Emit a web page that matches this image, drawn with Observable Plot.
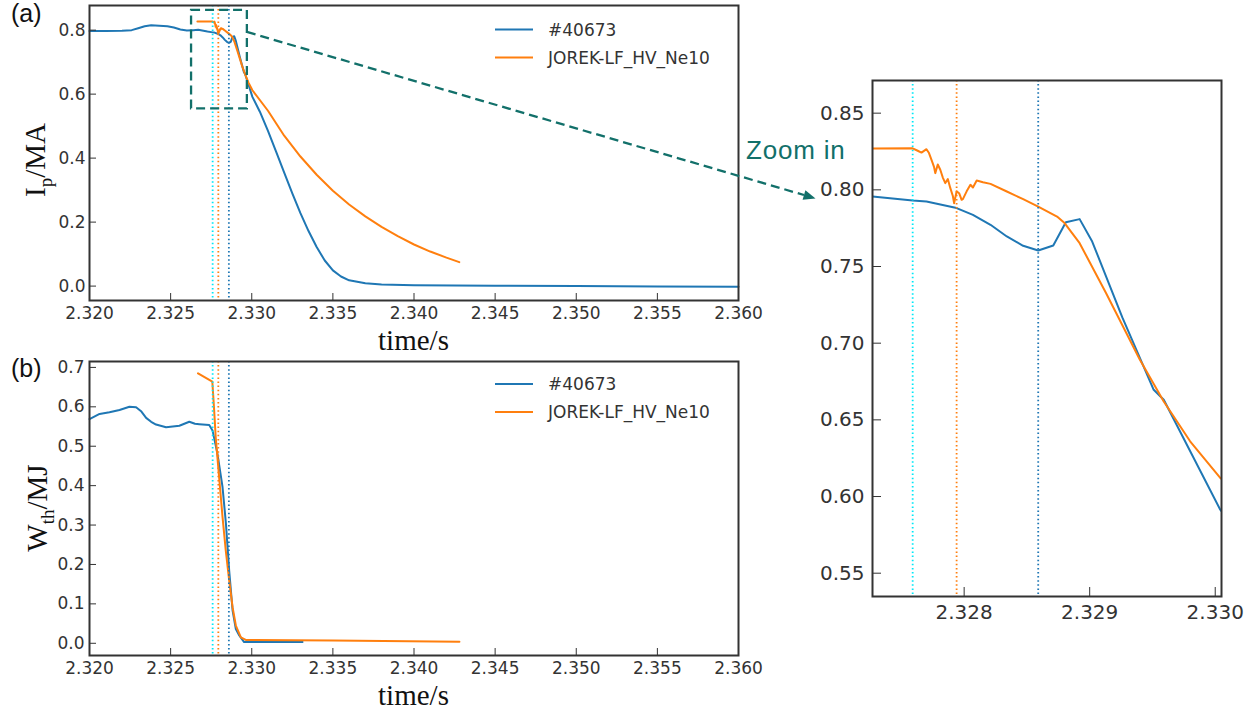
<!DOCTYPE html>
<html><head><meta charset="utf-8">
<script src="https://cdn.jsdelivr.net/npm/d3@7"></script>
<script src="https://cdn.jsdelivr.net/npm/@observablehq/plot@0.6"></script>
<style>
html,body{margin:0;padding:0;background:#fff;}
#wrap{position:relative;width:1260px;height:714px;overflow:hidden;background:#fff;}
#wrap > svg{position:absolute;}
</style></head><body><div id="wrap"></div>
<script>
// ---------------- DATA ----------------
const seriesNames = ["#40673", "JOREK-LF_HV_Ne10"];

// Plasma current Ip (MA), shot #40673
const ipShotT = [2.3200,2.3210,2.3220,2.3226,2.3230,2.3234,2.3238,2.3243,2.3248,2.3252,2.3256,2.3260,2.3264,2.3267,
  2.32727,2.32759,2.32770,2.32794,2.32807,2.32821,2.32834,2.32847,2.32859,2.32871,2.32881,2.32892,2.32902,2.32926,2.32951,2.32959,2.33004,
  2.3305,2.3310,2.3315,2.3320,2.3325,2.3330,2.3335,2.3340,2.3345,2.3350,2.3355,2.3360,2.3370,2.3380,2.3400,2.3450,2.3500,2.3550,2.3600];
const ipShotV = [0.797,0.797,0.798,0.800,0.806,0.812,0.815,0.814,0.812,0.808,0.802,0.799,0.800,0.801,
  0.7956,0.7930,0.7924,0.7881,0.7837,0.7772,0.7696,0.7635,0.7604,0.7637,0.7789,0.7809,0.7663,0.7168,0.6696,0.6631,0.5914,
  0.545,0.485,0.420,0.355,0.290,0.228,0.172,0.122,0.080,0.049,0.030,0.018,0.009,0.005,0.003,0.001,0.000,-0.001,-0.002];

// Plasma current Ip (MA), JOREK simulation
const ipJorekT = [2.32665,2.32727,2.32759,2.32763,2.32766,2.32770,2.32772,2.32774,2.32776,2.32777,2.32779,2.32781,2.32783,2.32785,2.32787,2.32789,2.32791,2.32792,
  2.32794,2.32796,2.32798,2.32799,2.32802,2.32805,2.32807,2.32810,2.32815,2.32821,2.32834,2.32847,2.32859,2.32874,2.32880,2.32892,2.32913,2.32940,
  2.32959,2.32980,2.33004,2.3310,2.3320,2.3330,2.3340,2.3350,2.3360,2.3370,2.3380,2.3390,2.3400,2.3410,2.3420,2.34279];
const ipJorekV = [0.8268,0.8269,0.8271,0.8255,0.8243,0.8265,0.8240,0.8196,0.8150,0.8109,0.8165,0.8131,0.8080,0.8044,0.8070,0.8011,0.7960,0.7913,
  0.7990,0.7978,0.7935,0.7939,0.7990,0.8033,0.8015,0.8061,0.8050,0.8039,0.7989,0.7939,0.7891,0.7826,0.7783,0.7652,0.7327,0.6892,
  0.6620,0.6360,0.6121,0.548,0.470,0.405,0.348,0.298,0.255,0.218,0.185,0.156,0.130,0.108,0.089,0.075];

// Thermal energy Wth (MJ), shot #40673
const wShotT = [2.32000,2.32062,2.32123,2.32185,2.32246,2.32287,2.32320,2.32349,2.32380,2.32410,2.32472,2.32554,2.32615,2.32650,2.32677,
  2.32738,2.32759,2.32789,2.32820,2.32841,2.32861,2.32882,2.32902,2.32923,2.32953,2.33313];
const wShotV = [0.569,0.582,0.586,0.592,0.600,0.599,0.588,0.572,0.562,0.555,0.548,0.552,0.562,0.557,0.556,
  0.554,0.539,0.480,0.396,0.303,0.184,0.083,0.036,0.020,0.003,0.003];

// Thermal energy Wth (MJ), JOREK simulation
const wJorekT = [2.32669,2.32757,2.32767,2.32778,2.32799,2.32820,2.32840,2.32861,2.32882,2.32902,2.32933,2.32963,2.3350,2.3428];
const wJorekV = [0.685,0.664,0.600,0.522,0.421,0.320,0.235,0.159,0.091,0.045,0.015,0.0086,0.007,0.004];

// Marked event times (s)
const eventTimes = [2.32759, 2.32794, 2.32859];

// Zoomed region (time s, Ip MA) and arrow anchors
const zoomBox = {t0: 2.32629, t1: 2.32973, v0: 0.554, v1: 0.8616};
const arrowStart = {t: 2.32973, v: 0.7928};
const arrowEnd = {t: 2.32682, v: 0.7941};

// Tick values
const xTicksMain = [2.320,2.325,2.330,2.335,2.340,2.345,2.350,2.355,2.360];
const ipTicks = [0.0,0.2,0.4,0.6,0.8];
const wTicks = [0.0,0.1,0.2,0.3,0.4,0.5,0.6,0.7];
const xTicksZoom = [2.328,2.329,2.330];
const ipTicksZoom = [0.55,0.60,0.65,0.70,0.75,0.80,0.85];

// ---------------- STYLE ----------------
const cShot = "#1f77b4", cJorek = "#ff7f0e", teal = "#12706a", axisCol = "#333";
const eventColors = ["#00e8f8", "#ff7f0e", "#1f77b4"];
const fmt1 = d3.format(".1f"), fmt2 = d3.format(".2f"), fmt3 = d3.format(".3f");

const zip = (T, V) => T.map((t, i) => ({t, v: V[i]}));
const ipShot = zip(ipShotT, ipShotV), ipJorek = zip(ipJorekT, ipJorekV);
const wShot = zip(wShotT, wShotV), wJorek = zip(wJorekT, wJorekV);
const events = eventTimes.map((t, i) => ({t, c: eventColors[i]}));

const baseStyle = {fontFamily: "DejaVu Sans", fontSize: "17px", background: "transparent", overflow: "visible"};

function eventRules(extra = {}) {
  return Plot.ruleX(events, {x: "t", stroke: "c", strokeWidth: 1.8, strokeDasharray: "1.5,2.6", ...extra});
}

const plotA = Plot.plot({
  width: 760, height: 360, marginLeft: 89, marginRight: 22, marginTop: 5, marginBottom: 60,
  style: baseStyle,
  color: {type: "identity"},
  x: {domain: [2.320, 2.360]}, y: {domain: [-0.045, 0.877]},
  marks: [
    Plot.line(ipShot, {x: "t", y: "v", stroke: cShot, strokeWidth: 2}),
    Plot.line(ipJorek, {x: "t", y: "v", stroke: cJorek, strokeWidth: 2}),
    eventRules(),
    Plot.rect([zoomBox], {x1: "t0", x2: "t1", y1: "v0", y2: "v1", fill: "none", stroke: teal, strokeWidth: 2.3, strokeDasharray: "9,5"}),
    Plot.frame({stroke: axisCol, strokeWidth: 2}),
    Plot.axisX({ticks: xTicksMain, tickFormat: fmt3, tickSize: -7, tickPadding: 13, color: axisCol, fontSize: 17, label: null}),
    Plot.axisY({ticks: ipTicks, tickFormat: fmt1, tickSize: -7, tickPadding: 11, color: axisCol, fontSize: 17, label: null})
  ]
});

const plotB = Plot.plot({
  width: 760, height: 359, marginLeft: 89, marginRight: 22, marginTop: 6, marginBottom: 59,
  style: baseStyle,
  color: {type: "identity"},
  x: {domain: [2.320, 2.360]}, y: {domain: [-0.031, 0.715]},
  marks: [
    Plot.line(wShot, {x: "t", y: "v", stroke: cShot, strokeWidth: 2}),
    Plot.line(wJorek, {x: "t", y: "v", stroke: cJorek, strokeWidth: 2}),
    eventRules(),
    Plot.frame({stroke: axisCol, strokeWidth: 2}),
    Plot.axisX({ticks: xTicksMain, tickFormat: fmt3, tickSize: -7, tickPadding: 13, color: axisCol, fontSize: 17, label: null}),
    Plot.axisY({ticks: wTicks, tickFormat: fmt1, tickSize: -7, tickPadding: 12, color: axisCol, fontSize: 17, label: null})
  ]
});

const plotZ = Plot.plot({
  width: 500, height: 714, marginLeft: 112, marginRight: 39, marginTop: 80, marginBottom: 118,
  style: {...baseStyle, fontSize: "20px"},
  color: {type: "identity"},
  x: {domain: [2.32727, 2.33005]}, y: {domain: [0.5348, 0.8713]},
  marks: [
    Plot.line(ipShot, {x: "t", y: "v", stroke: cShot, strokeWidth: 2, clip: true}),
    Plot.line(ipJorek, {x: "t", y: "v", stroke: cJorek, strokeWidth: 2, clip: true}),
    eventRules({clip: true}),
    Plot.frame({stroke: axisCol, strokeWidth: 2}),
    Plot.axisX({ticks: xTicksZoom, tickFormat: fmt3, tickSize: -9, tickPadding: 17, color: axisCol, fontSize: 20, label: null}),
    Plot.axisY({ticks: ipTicksZoom, tickFormat: fmt2, tickSize: -9, tickPadding: 17, color: axisCol, fontSize: 20, label: null})
  ]
});

const wrap = document.getElementById("wrap");
const place = (svg, left, top) => { svg.style.left = left + "px"; svg.style.top = top + "px"; wrap.appendChild(svg); };
place(plotA, 0, 0);
place(plotB, 0, 355);
place(plotZ, 760, 0);

// ---------------- OVERLAY (labels, legend, arrow) ----------------
const ov = d3.create("svg").attr("width", 1260).attr("height", 714)
  .style("left", "0px").style("top", "0px").style("pointer-events", "none");
wrap.appendChild(ov.node());

const serif = "'Liberation Serif', 'Times New Roman', serif";
const sans = "'Liberation Sans', Arial, sans-serif";

function xLabel(y) {
  ov.append("text").attr("x", 413.5).attr("y", y).attr("text-anchor", "middle")
    .attr("font-family", serif).attr("font-size", 29).attr("fill", "#111").text("time/s");
}
xLabel(349.5); xLabel(705);

function yLabel(x, y, main, sub, rest) {
  const t = ov.append("text").attr("transform", `translate(${x},${y}) rotate(-90)`).attr("text-anchor", "middle")
    .attr("font-family", serif).attr("font-size", 29).attr("fill", "#111");
  t.append("tspan").text(main);
  t.append("tspan").attr("font-size", 19).attr("dy", 7).text(sub);
  t.append("tspan").attr("dy", -7).text(rest);
}
yLabel(45, 160, "I", "p", "/MA");
yLabel(47, 508, "W", "th", "/MJ");

ov.append("text").attr("x", 11).attr("y", 22).attr("font-family", sans).attr("font-size", 25).attr("fill", "#111").text("(a)");
ov.append("text").attr("x", 11).attr("y", 377).attr("font-family", sans).attr("font-size", 25).attr("fill", "#111").text("(b)");

function legend(y0) {
  [cShot, cJorek].forEach((c, i) => {
    const y = y0 + i * 28;
    ov.append("line").attr("x1", 495).attr("x2", 533).attr("y1", y).attr("y2", y).attr("stroke", c).attr("stroke-width", 2);
    ov.append("text").attr("x", 548).attr("y", y).attr("dy", "0.36em").attr("font-family", "DejaVu Sans").attr("font-size", 17)
      .attr("fill", axisCol).text(seriesNames[i]);
  });
}
legend(29.5);
legend(384);

// Zoom-in arrow, anchored through the plots' own scales
const xa = plotA.scale("x").apply, ya = plotA.scale("y").apply;
const xz = plotZ.scale("x").apply, yz = plotZ.scale("y").apply;
const p0 = [xa(arrowStart.t), ya(arrowStart.v)];
const p1 = [760 + xz(arrowEnd.t), yz(arrowEnd.v)];
const ang = Math.atan2(p1[1] - p0[1], p1[0] - p0[0]);
const headLen = 12, headW = 5;
const base = [p1[0] - headLen * Math.cos(ang), p1[1] - headLen * Math.sin(ang)];
ov.append("line").attr("x1", p0[0]).attr("y1", p0[1]).attr("x2", base[0]).attr("y2", base[1])
  .attr("stroke", teal).attr("stroke-width", 2.3).attr("stroke-dasharray", "9,5");
ov.append("polygon").attr("fill", teal).attr("points", [
  p1,
  [base[0] + headW * Math.sin(ang), base[1] - headW * Math.cos(ang)],
  [base[0] - headW * Math.sin(ang), base[1] + headW * Math.cos(ang)]
].map(p => p.join(",")).join(" "));

ov.append("text").attr("x", 746).attr("y", 159).attr("font-family", sans).attr("font-size", 26)
  .attr("letter-spacing", 0.8).attr("fill", teal).text("Zoom in");
</script>
</body></html>
